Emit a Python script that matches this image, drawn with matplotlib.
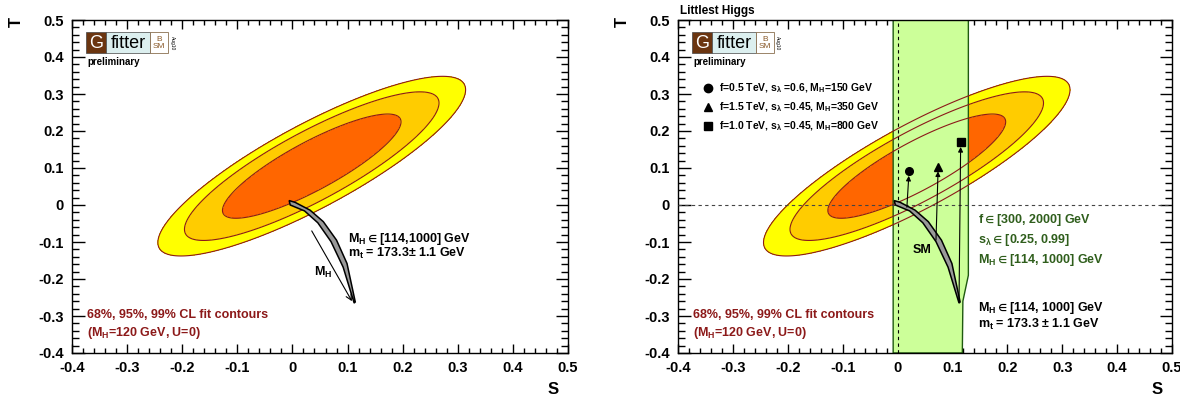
import numpy as np
import matplotlib
matplotlib.use('Agg')
from matplotlib import pylab as plt
from matplotlib.patches import Rectangle, Polygon
from matplotlib.ticker import MultipleLocator, FuncFormatter

plt.rcParams['font.family'] = ['Liberation Sans', 'DejaVu Sans']
plt.rcParams['font.weight'] = 'bold'
plt.rcParams['mathtext.default'] = 'regular'
plt.rcParams['axes.unicode_minus'] = False

# S,T fit result (M_H=120 GeV, U=0)
S0, T0 = 0.035, 0.105
sig_S, sig_T, rho = 0.092, 0.080, 0.85
cl_dchi2 = [3.1, 6.3, 9.21]            # 68, 95, 99 % CL contours as drawn
cl_colors = ['#ff6600', '#ffcc00', '#ffff00']

# SM prediction band (M_H in [114, 1000] GeV, m_t = 173.3 +- 1.1)
sm_upper_S = [-0.006, 0.005, 0.032, 0.056, 0.080, 0.099, 0.114]
sm_upper_T = [0.012, 0.007, -0.014, -0.045, -0.095, -0.158, -0.262]
sm_lower_S = [-0.004, 0.022, 0.046, 0.070, 0.092, 0.112]
sm_lower_T = [0.000, -0.016, -0.048, -0.099, -0.168, -0.265]

# M_H arrow on the SM band
mh_arrow_S = [0.035, 0.108]
mh_arrow_T = [-0.07, -0.26]

# Littlest Higgs allowed region
lh_band_S = [-0.008, -0.008, 0.129, 0.129, 0.119, 0.118]
lh_band_T = [-0.4, 0.5, 0.5, -0.19, -0.26, -0.4]

# Littlest Higgs benchmark points and their SM origin
lh_S = [0.021, 0.074, 0.115]
lh_T = [0.092, 0.104, 0.170]
lh_sm_S = [0.017, 0.070, 0.112]
lh_sm_T = [-0.006, -0.095, -0.257]
lh_markers = ['o', '^', 's']
lh_labels = ['f=0.5 TeV, s$_{\\lambda}$ =0.6, M$_{H}$=150 GeV',
             'f=1.5 TeV, s$_{\\lambda}$ =0.45, M$_{H}$=350 GeV',
             'f=1.0 TeV, s$_{\\lambda}$ =0.45, M$_{H}$=800 GeV']

DARKRED = '#8c1919'
GREEN = '#2f5e1c'


def chi2_grid():
    s = np.linspace(-0.4, 0.5, 500)
    t = np.linspace(-0.4, 0.5, 500)
    SS, TT = np.meshgrid(s, t)
    cov = np.array([[sig_S**2, rho * sig_S * sig_T],
                    [rho * sig_S * sig_T, sig_T**2]])
    inv = np.linalg.inv(cov)
    dS, dT = SS - S0, TT - T0
    chi2 = inv[0, 0] * dS**2 + 2 * inv[0, 1] * dS * dT + inv[1, 1] * dT**2
    return SS, TT, chi2


def style_axes(ax):
    ax.set_xlim(-0.4, 0.5)
    ax.set_ylim(-0.4, 0.5)
    for axis in (ax.xaxis, ax.yaxis):
        axis.set_major_locator(MultipleLocator(0.1))
        axis.set_minor_locator(MultipleLocator(0.02))
        axis.set_major_formatter(FuncFormatter(lambda v, p: '%g' % round(v, 2)))
    ax.tick_params(which='both', direction='in', top=True, right=True,
                   labelsize=10.5, width=1)
    ax.tick_params(axis='x', which='major', length=6.5, pad=6)
    ax.tick_params(axis='x', which='minor', length=3.5)
    ax.tick_params(axis='y', which='major', length=9, pad=6)
    ax.tick_params(axis='y', which='minor', length=5)
    for sp in ax.spines.values():
        sp.set_linewidth(1)
    ax.text(0.97, -0.11, 'S', transform=ax.transAxes, fontsize=12,
            ha='center', va='center')
    ax.text(-0.112, 0.994, 'T', transform=ax.transAxes, fontsize=12,
            ha='center', va='center', rotation=90)


def draw_logo(ax):
    x0, y0, h = 0.028, 0.901, 0.062
    wG, wF, wB = 0.041, 0.089, 0.036
    kw = dict(transform=ax.transAxes, clip_on=False, zorder=10)
    ax.add_patch(Rectangle((x0, y0), wG, h, facecolor='#6b3510',
                           edgecolor='#444444', lw=0.5, **kw))
    ax.add_patch(Rectangle((x0 + wG, y0), wF, h, facecolor='#dcefef',
                           edgecolor='#444444', lw=0.5, **kw))
    ax.add_patch(Rectangle((x0 + wG + wF, y0), wB, h, facecolor='white',
                           edgecolor='#8a7050', lw=0.6, **kw))
    ax.text(x0 + wG / 2, y0 + h / 2 - 0.002, 'G', color='white', fontsize=13,
            fontweight='normal', ha='center', va='center', **kw)
    ax.text(x0 + wG + wF / 2, y0 + h / 2 - 0.002, 'fitter', color='black',
            fontsize=13, fontweight='normal', ha='center', va='center', **kw)
    ax.text(x0 + wG + wF + wB / 2, y0 + h / 2, 'B\nSM', color='#8a5a2a',
            fontsize=6, fontweight='normal', ha='center', va='center',
            linespacing=1.0, **kw)
    ax.text(x0 + wG + wF + wB + 0.008, y0 + h / 2, 'Aug10', fontsize=3.5,
            fontweight='normal', rotation=-90, ha='center', va='center', **kw)
    ax.text(x0 + 0.004, 0.874, 'preliminary', fontsize=7, ha='left',
            va='center', transform=ax.transAxes, zorder=10)


def draw_fit(ax):
    SS, TT, chi2 = chi2_grid()
    ax.contourf(SS, TT, chi2, levels=[0] + cl_dchi2, colors=cl_colors, zorder=1)
    return SS, TT, chi2


def draw_fit_lines(ax, SS, TT, chi2):
    ax.contour(SS, TT, chi2, levels=cl_dchi2, colors=DARKRED,
               linewidths=0.8, zorder=3)


def draw_sm(ax):
    xs = sm_upper_S + sm_lower_S[::-1]
    ys = sm_upper_T + sm_lower_T[::-1]
    ax.add_patch(Polygon(np.column_stack([xs, ys]), closed=True,
                         facecolor='#999999', edgecolor='black', lw=1.1,
                         zorder=4))


def draw_cl_text(ax):
    ax.text(-0.372, -0.297, '68%, 95%, 99% CL fit contours', color=DARKRED,
            fontsize=9, ha='left', va='center', zorder=6)
    ax.text(-0.372, -0.346, '(M$_{H}$=120 GeV, U=0)', color=DARKRED,
            fontsize=9, ha='left', va='center', zorder=6)


fig = plt.figure(figsize=(11.8, 4), dpi=100)
ax1 = fig.add_axes([72 / 1180, 47 / 400, 496 / 1180, 333 / 400])
ax2 = fig.add_axes([678 / 1180, 47 / 400, 494 / 1180, 333 / 400])

# ---- left panel: SM ----
grid = draw_fit(ax1)
draw_fit_lines(ax1, *grid)
draw_sm(ax1)
ax1.annotate('', xy=(mh_arrow_S[1], mh_arrow_T[1]),
             xytext=(mh_arrow_S[0], mh_arrow_T[0]),
             arrowprops=dict(arrowstyle='->', lw=0.8, color='black',
                             shrinkA=0, shrinkB=0, mutation_scale=10),
             zorder=5)
ax1.text(0.055, -0.181, 'M$_{H}$', fontsize=9, ha='center', va='center')
ax1.text(0.101, -0.092, 'M$_{H}$$\\in$[114,1000] GeV', fontsize=9,
         ha='left', va='center')
ax1.text(0.101, -0.132, 'm$_{t}$ = 173.3\u00b1 1.1 GeV', fontsize=9,
         ha='left', va='center')
draw_cl_text(ax1)
draw_logo(ax1)
style_axes(ax1)

# ---- right panel: Littlest Higgs ----
grid = draw_fit(ax2)
ax2.add_patch(Polygon(np.column_stack([lh_band_S, lh_band_T]), closed=True,
                      facecolor='#ccff99', edgecolor='#1f5a10', lw=1.0,
                      zorder=2))
draw_fit_lines(ax2, *grid)
ax2.axvline(0, color='black', ls=(0, (3, 3)), lw=0.8, zorder=3)
ax2.axhline(0, color='#444444', ls=(0, (3, 3)), lw=0.8, zorder=3)
draw_sm(ax2)
for s, t, s0, t0, m in zip(lh_S, lh_T, lh_sm_S, lh_sm_T, lh_markers):
    ax2.annotate('', xy=(s, t), xytext=(s0, t0),
                 arrowprops=dict(arrowstyle='-|>', lw=0.8, color='black',
                                 shrinkA=0, shrinkB=3.5, mutation_scale=7),
                 zorder=5)
    ax2.plot([s], [t], marker=m, color='black', ms=5.5, zorder=6)
for i, (m, lab) in enumerate(zip(lh_markers, lh_labels)):
    y = 0.796 - i * 0.057
    ax2.plot([0.061], [y], marker=m, color='black', ms=6,
             transform=ax2.transAxes, clip_on=False)
    ax2.text(0.083, y, lab, fontsize=7.5, ha='left', va='center',
             transform=ax2.transAxes)
ax2.text(0.044, -0.122, 'SM', fontsize=9, ha='center', va='center', zorder=6)
ax2.text(0.147, -0.041, 'f$\\in$[300, 2000] GeV', color=GREEN, fontsize=9,
         ha='left', va='center')
ax2.text(0.147, -0.095, 's$_{\\lambda}$$\\in$[0.25, 0.99]', color=GREEN,
         fontsize=9, ha='left', va='center')
ax2.text(0.147, -0.149, 'M$_{H}$$\\in$[114, 1000] GeV', color=GREEN,
         fontsize=9, ha='left', va='center')
ax2.text(0.147, -0.279, 'M$_{H}$$\\in$[114, 1000] GeV', fontsize=9,
         ha='left', va='center')
ax2.text(0.147, -0.324, 'm$_{t}$ = 173.3 \u00b1 1.1 GeV', fontsize=9,
         ha='left', va='center')
draw_cl_text(ax2)
draw_logo(ax2)
ax2.text(0.004, 1.01, 'Littlest Higgs', fontsize=8.5, ha='left',
         va='bottom', transform=ax2.transAxes)
style_axes(ax2)

fig.savefig('out.png', dpi=100)
